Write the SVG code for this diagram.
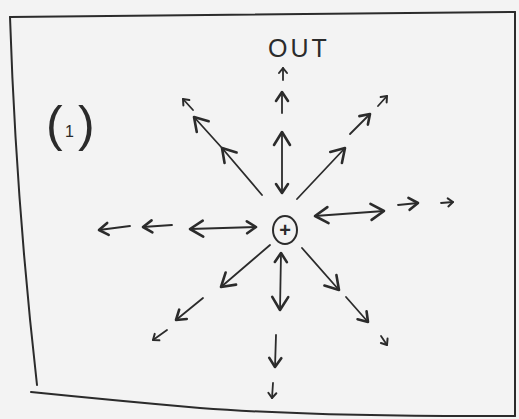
<svg xmlns="http://www.w3.org/2000/svg" width="519" height="419" viewBox="0 0 519 419">
<style>
.ink{fill:none;stroke:#2b2b2b;stroke-linecap:round;stroke-linejoin:round}
.ln{stroke-width:1.8}
.h{fill:none;stroke:#2b2b2b;stroke-width:2.6;stroke-linecap:round;stroke-linejoin:round}
.t{fill:#2b2b2b;font-family:"Liberation Sans",Arial,sans-serif}
</style>
<defs>
<marker id="hb" viewBox="-16 -11 18 22" refX="0" refY="0" markerWidth="18" markerHeight="22" markerUnits="userSpaceOnUse" orient="auto-start-reverse"><path class="h" d="M-13,-8 L0,0 L-13,8"/></marker>
<marker id="hm" viewBox="-12 -8 14 16" refX="0" refY="0" markerWidth="14" markerHeight="16" markerUnits="userSpaceOnUse" orient="auto-start-reverse"><path class="h" d="M-9,-6 L0,0 L-9,6"/></marker>
<marker id="hs" viewBox="-8 -6 10 12" refX="0" refY="0" markerWidth="10" markerHeight="12" markerUnits="userSpaceOnUse" orient="auto-start-reverse"><path class="h" style="stroke-width:2" d="M-5,-4 L0,0 L-5,4"/></marker>
</defs>
<rect width="519" height="419" fill="#f3f3f3"/>
<g id="frame" class="ink" style="stroke-width:2">
<path d="M10,17 L515,12"/>
<path d="M515,12 L515,416"/>
<path d="M10,17 Q16,200 37,385"/>
<path d="M31,392 Q120,401 200,408 Q320,417 515,416"/>
</g>
<g id="label-1">
<text class="t" y="141"><tspan x="46" font-size="50">(</tspan><tspan x="65" y="137" font-size="16">1</tspan><tspan x="78" y="141" font-size="50">)</tspan></text>
</g>
<g id="label-out">
<text class="t" x="268" y="57" font-size="25" letter-spacing="3">OUT</text>
</g>
<g id="center">
<ellipse class="ink" cx="285" cy="230" rx="12" ry="14" style="stroke-width:2"/>
<text class="t" x="285" y="237" font-size="20" font-weight="bold" text-anchor="middle">+</text>
</g>
<g id="connectors" class="ink ln">
<line x1="282" y1="193" x2="282" y2="132" marker-start="url(#hm)" marker-end="url(#hb)"/>
<line x1="282" y1="113" x2="282" y2="92" marker-end="url(#hm)"/>
<line x1="283" y1="80" x2="283" y2="68" marker-end="url(#hs)"/>
<polyline points="262,195 222,148 194,117" marker-mid="url(#hb)" marker-end="url(#hb)"/>
<line x1="193" y1="110" x2="183" y2="99" marker-end="url(#hs)"/>
<line x1="297" y1="199" x2="345" y2="148" marker-end="url(#hb)"/>
<line x1="350" y1="134" x2="370" y2="114" marker-end="url(#hm)"/>
<line x1="378" y1="106" x2="387" y2="96" marker-end="url(#hs)"/>
<line x1="315" y1="216" x2="384" y2="211" marker-start="url(#hb)" marker-end="url(#hb)"/>
<line x1="398" y1="205" x2="418" y2="203" marker-end="url(#hm)"/>
<line x1="441" y1="203" x2="453" y2="202" marker-end="url(#hs)"/>
<line x1="190" y1="229" x2="256" y2="227" marker-start="url(#hb)" marker-end="url(#hm)"/>
<line x1="172" y1="225" x2="143" y2="227" marker-end="url(#hm)"/>
<line x1="130" y1="226" x2="99" y2="230" marker-end="url(#hm)"/>
<line x1="270" y1="245" x2="221" y2="287" marker-end="url(#hb)"/>
<line x1="203" y1="298" x2="176" y2="320" marker-end="url(#hm)"/>
<line x1="167" y1="330" x2="153" y2="340" marker-end="url(#hs)"/>
<line x1="281" y1="253" x2="280" y2="310" marker-start="url(#hm)" marker-end="url(#hb)"/>
<line x1="276" y1="335" x2="275" y2="367" marker-end="url(#hm)"/>
<line x1="273" y1="383" x2="272" y2="398" marker-end="url(#hs)"/>
<line x1="302" y1="248" x2="339" y2="290" marker-end="url(#hb)"/>
<line x1="346" y1="297" x2="368" y2="322" marker-end="url(#hm)"/>
<line x1="381" y1="336" x2="387" y2="345" marker-end="url(#hs)"/>
</g>
</svg>
